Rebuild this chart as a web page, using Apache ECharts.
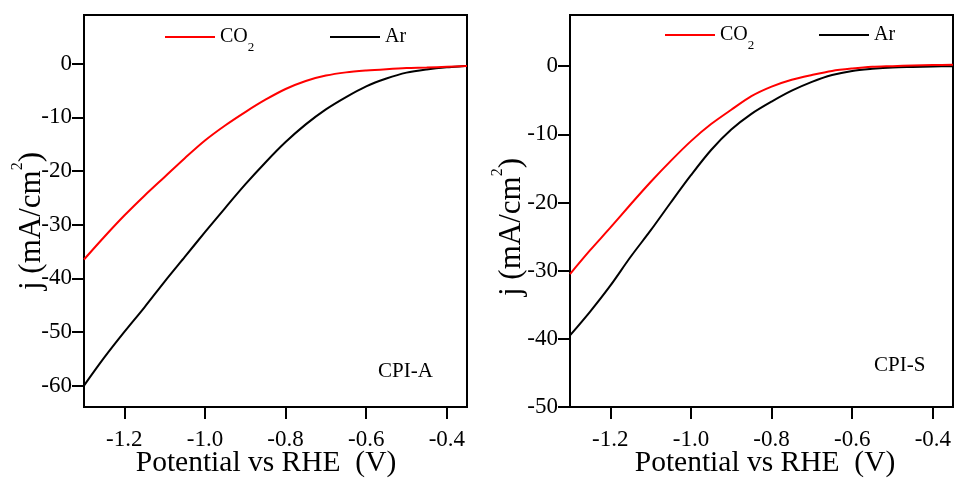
<!DOCTYPE html>
<html>
<head>
<meta charset="utf-8">
<style>
  html, body { margin: 0; padding: 0; background: #fff; }
  #chart { width: 957px; height: 482px; }
</style>
<script src="https://cdn.jsdelivr.net/npm/echarts@6/dist/echarts.min.js"></script>
</head>
<body>
<div id="chart"></div>
<script>
// ---- data ----
const POTENTIAL = [-1.30, -1.25, -1.20, -1.15, -1.10, -1.05, -1.00, -0.95, -0.90, -0.85,
                   -0.80, -0.75, -0.70, -0.65, -0.60, -0.55, -0.50, -0.45, -0.40, -0.35];
// Panel CPI-A
const A_CO2 = [-36.5, -32.3, -28.3, -24.6, -21.1, -17.6, -14.3, -11.5, -9.0, -6.7,
               -4.7, -3.2, -2.2, -1.6, -1.25, -1.0, -0.8, -0.7, -0.55, -0.4];
const A_AR  = [-60.0, -54.8, -50.0, -45.4, -40.6, -36.0, -31.4, -26.9, -22.5, -18.4,
               -14.6, -11.3, -8.5, -6.2, -4.2, -2.75, -1.65, -1.05, -0.65, -0.4];
// Panel CPI-S
const S_CO2 = [-30.5, -27.0, -23.7, -20.3, -17.0, -13.9, -11.0, -8.5, -6.4, -4.4,
               -3.0, -2.0, -1.3, -0.7, -0.35, -0.1, 0.0, 0.1, 0.15, 0.2];
const S_AR  = [-39.5, -36.0, -32.2, -28.0, -24.1, -20.0, -16.0, -12.3, -9.3, -7.0,
               -5.2, -3.6, -2.3, -1.3, -0.7, -0.4, -0.2, -0.12, -0.05, 0.0];

const X_TICKS = [-1.2, -1.0, -0.8, -0.6, -0.4];
const Y_TICKS_A = [0, -10, -20, -30, -40, -50, -60];
const Y_TICKS_S = [0, -10, -20, -30, -40, -50];
const SERIES_NAMES = ['CO2', 'Ar'];
const PANEL_LABELS = ['CPI-A', 'CPI-S'];
const X_TITLE = 'Potential vs RHE  (V)';
const Y_TITLE = 'j (mA/cm{sup|2})';

// ---- chart ----
const FONT = '"Liberation Serif", "Times New Roman", serif';
const pairs = (ys) => POTENTIAL.map((x, i) => [x, ys[i]]);

function xAxisDef(gi) {
  return {
    gridIndex: gi, type: 'value', min: -1.3, max: -0.35,
    axisLine: { show: true, onZero: false, lineStyle: { color: '#000', width: 2 } },
    axisTick: { show: true, inside: false, length: 12, customValues: X_TICKS,
                lineStyle: { color: '#000', width: 2 } },
    axisLabel: { customValues: X_TICKS, formatter: v => v.toFixed(1), margin: 21,
                 fontSize: 23, fontFamily: FONT, color: '#000' },
    splitLine: { show: false }
  };
}
function yAxisDef(gi, min, max, ticks) {
  return {
    gridIndex: gi, type: 'value', min: min, max: max,
    axisLine: { show: true, onZero: false, lineStyle: { color: '#000', width: 2 } },
    axisTick: { show: true, inside: false, length: 12, customValues: ticks,
                lineStyle: { color: '#000', width: 2 } },
    axisLabel: { customValues: ticks, margin: 12, fontSize: 23, fontFamily: FONT, color: '#000' },
    splitLine: { show: false }
  };
}
function lineSeries(name, gi, ys, color) {
  return {
    name: name, type: 'line', xAxisIndex: gi, yAxisIndex: gi,
    data: pairs(ys), symbol: 'none', showSymbol: false, smooth: 0.3,
    lineStyle: { color: color, width: 2 }, itemStyle: { color: color }
  };
}
const legendText = {
  fontSize: 20, fontFamily: FONT, color: '#000', lineHeight: 34,
  rich: { sub: { fontSize: 13, fontFamily: FONT, color: '#000', lineHeight: 10, verticalAlign: 'bottom' } }
};
function legendDef(name, left, top) {
  return {
    data: [name], left: left, top: top, orient: 'horizontal',
    icon: 'rect', itemWidth: 50, itemHeight: 2, itemGap: 0, padding: 0,
    formatter: n => n === 'CO2' ? 'CO{sub|2}' : n,
    textStyle: legendText, selectedMode: false
  };
}
function yTitle(cx, cy) {
  return {
    type: 'text', x: cx, y: cy, rotation: Math.PI / 2,
    style: {
      text: Y_TITLE, x: 0, y: 0, align: 'center', verticalAlign: 'middle',
      fontSize: 31, fontFamily: FONT, fill: '#000', lineHeight: 45,
      rich: { sup: { fontSize: 16, fontFamily: FONT, fill: '#000', lineHeight: 8, verticalAlign: 'top' } }
    }
  };
}
function plainText(text, x, y, size, align) {
  return {
    type: 'text', x: x, y: y,
    style: { text: text, x: 0, y: 0, align: align, verticalAlign: 'middle',
             fontSize: size, fontFamily: FONT, fill: '#000' }
  };
}

const chart = echarts.init(document.getElementById('chart'), null, { renderer: 'canvas' });
chart.setOption({
  animation: false,
  backgroundColor: '#fff',
  grid: [
    { left: 84, top: 15, width: 383, height: 392, show: true, borderColor: '#000', borderWidth: 2 },
    { left: 570, top: 15, width: 383, height: 392, show: true, borderColor: '#000', borderWidth: 2 }
  ],
  xAxis: [xAxisDef(0), xAxisDef(1)],
  yAxis: [yAxisDef(0, -64, 9.1, Y_TICKS_A), yAxisDef(1, -50, 7.5, Y_TICKS_S)],
  legend: [
    legendDef(SERIES_NAMES[0], 165, 20),
    legendDef(SERIES_NAMES[1], 330, 20),
    legendDef(SERIES_NAMES[0], 665, 18),
    legendDef(SERIES_NAMES[1], 819, 18)
  ],
  series: [
    lineSeries(SERIES_NAMES[1], 0, A_AR, '#000000'),
    lineSeries(SERIES_NAMES[0], 0, A_CO2, '#ff0000'),
    lineSeries(SERIES_NAMES[1], 1, S_AR, '#000000'),
    lineSeries(SERIES_NAMES[0], 1, S_CO2, '#ff0000')
  ],
  graphic: [
    plainText(X_TITLE, 266, 463, 29.5, 'center'),
    plainText(X_TITLE, 765, 463, 29.5, 'center'),
    yTitle(32, 221),
    yTitle(512, 227),
    plainText(PANEL_LABELS[0], 378, 371.5, 21, 'left'),
    plainText(PANEL_LABELS[1], 874, 365.5, 21, 'left')
  ]
});
</script>
</body>
</html>
